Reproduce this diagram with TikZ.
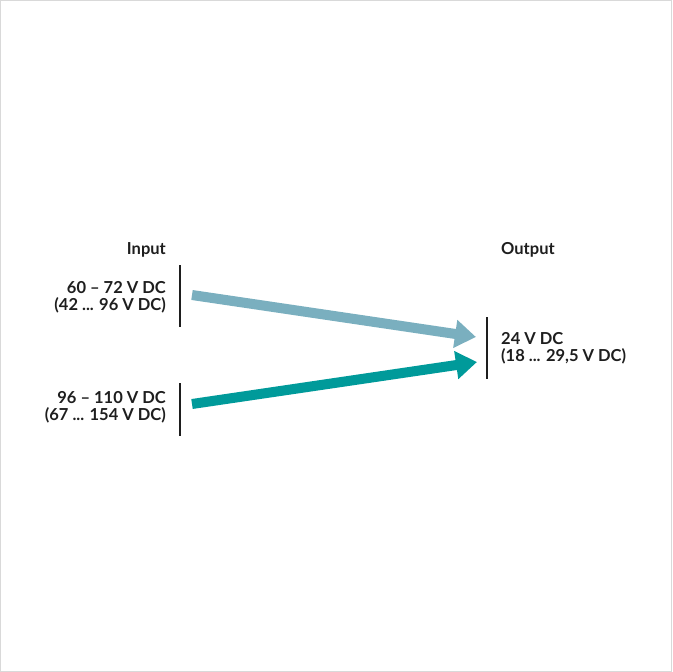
\documentclass[tikz,border=0pt]{standalone}
\usepackage{fontspec}
\setmainfont{Lato}
\usetikzlibrary{arrows.meta}
\definecolor{lightarrow}{HTML}{7AAFBF}
\definecolor{tealarrow}{HTML}{009A9A}
\definecolor{txt}{HTML}{1E1E1E}
\tikzset{
  lbl/.style={inner sep=0pt, font=\fontsize{16.5}{17}\selectfont\bfseries, text=txt, align=right},
  lblL/.style={lbl, align=left},
  bar/.style={line width=2pt, draw=txt},
  fatarrow/.style={line width=10pt, -{Triangle[length=21pt,width=27pt]}},
}
\begin{document}
\begin{tikzpicture}[x=1pt,y=-1pt]
\useasboundingbox (0,0) rectangle (672,672);
\draw[draw=black!15, line width=1pt] (0.5,0.5) rectangle (671.5,671.5);
% labels
\node[lbl, anchor=east] (input) at (166,250) {Input};
\node[lbl, anchor=east] (in1) at (166,297) {60 – 72 V DC\\(42 ... 96 V DC)};
\node[lbl, anchor=east] (in2) at (166,407) {96 – 110 V DC\\(67 ... 154 V DC)};
\node[lblL, anchor=west] (output) at (501,250) {Output};
\node[lblL, anchor=west] (out) at (501,348) {24 V DC\\(18 ... 29,5 V DC)};
% bars
\coordinate (b1t) at (180,265); \coordinate (b1b) at (180,327);
\coordinate (b2t) at (180,383); \coordinate (b2b) at (180,436);
\coordinate (b3t) at (487,317); \coordinate (b3b) at (487,379);
\draw[bar] (b1t) -- (b1b);
\draw[bar] (b2t) -- (b2b);
\draw[bar] (b3t) -- (b3b);
% arrows
\coordinate (a1s) at (192,295); \coordinate (a1e) at (476,337);
\coordinate (a2s) at (192,404); \coordinate (a2e) at (477,362);
\draw[fatarrow, draw=lightarrow, fill=lightarrow] (a1s) -- (a1e);
\draw[fatarrow, draw=tealarrow, fill=tealarrow] (a2s) -- (a2e);
\end{tikzpicture}
\end{document}
